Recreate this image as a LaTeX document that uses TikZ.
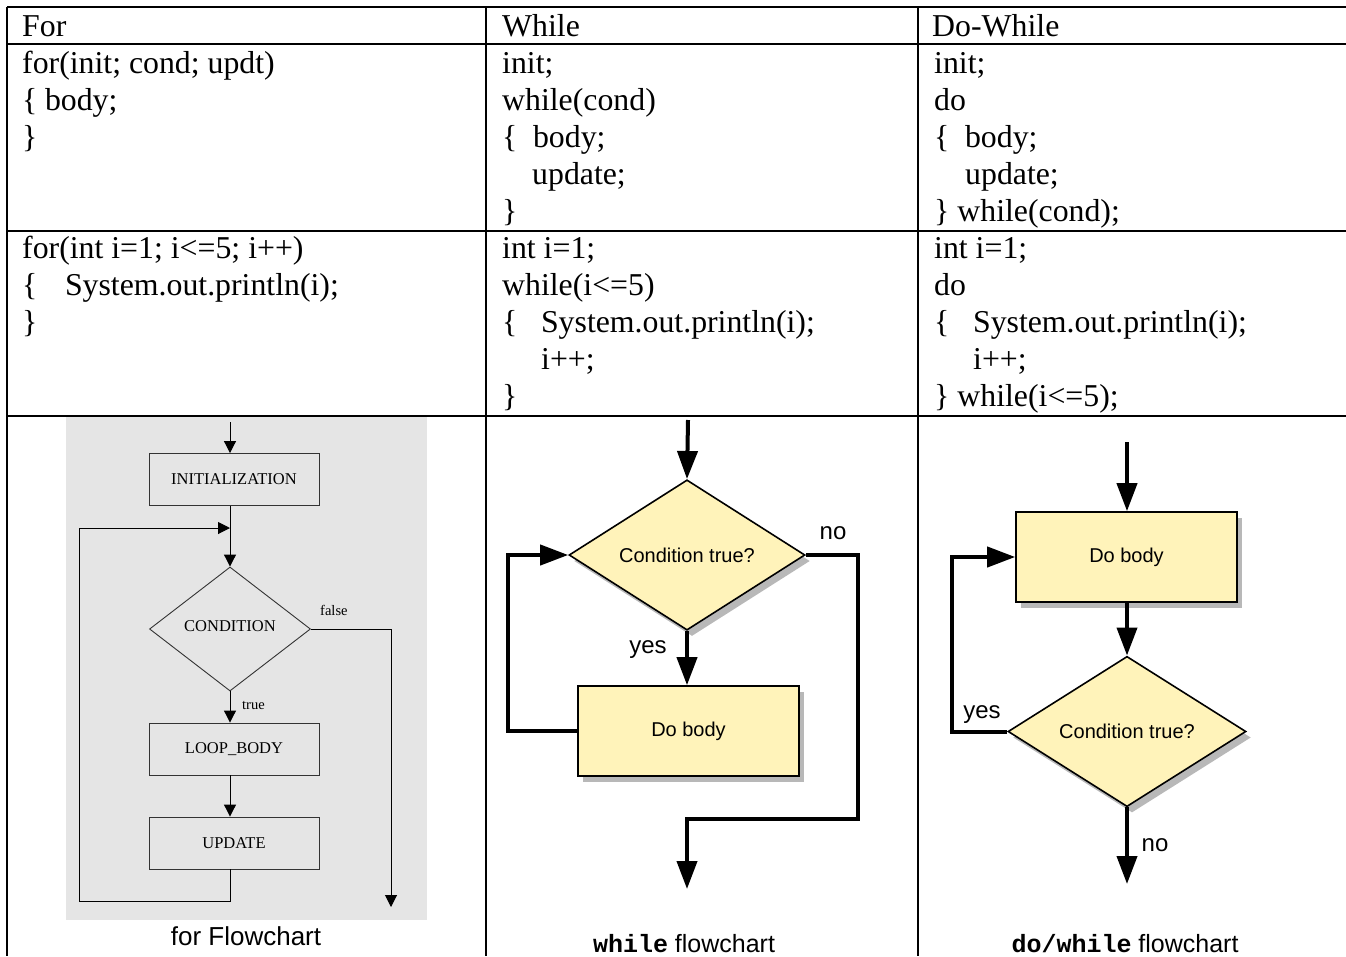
\documentclass[tikz,border=0pt]{standalone}
\usepackage{fontspec}
\setmainfont{Liberation Serif}
\newfontfamily\arialf{Liberation Sans}
\newfontfamily\courf{Liberation Mono}
\usetikzlibrary{arrows.meta,shapes.geometric,shadows}
\definecolor{flowbg}{RGB}{229,229,229}
\definecolor{ylw}{RGB}{255,243,186}
\begin{document}
\begin{tikzpicture}[x=1pt,y=-1pt,
  tbl/.style={line width=2.2pt},
  code/.style={anchor=base west,inner sep=0pt,font=\fontsize{31.8}{37}\selectfont},
  fbox/.style={draw=black!80,line width=0.9pt,rectangle,minimum width=170pt,minimum height=52pt,inner sep=0pt,font=\fontsize{16.5}{18}\selectfont},
  fdia/.style={draw=black!80,line width=0.9pt,diamond,minimum width=161pt,minimum height=124pt,inner sep=0pt,font=\fontsize{16.5}{18}\selectfont},
  flbl/.style={inner sep=0pt,font=\fontsize{14.5}{16}\selectfont},
  aone/.style={line width=1pt,-{Triangle[length=12pt,width=12pt]}},
  ybox/.style={draw=black,fill=ylw,line width=1.6pt,rectangle,minimum width=221pt,minimum height=90pt,inner sep=0pt,font=\arialf\fontsize{20}{22}\selectfont,
    drop shadow={shadow xshift=5pt,shadow yshift=-6pt,fill=black,opacity=0.28}},
  ydia/.style={draw=black,fill=ylw,line width=1.6pt,diamond,inner sep=0pt,font=\arialf\fontsize{20}{22}\selectfont,
    drop shadow={shadow xshift=5pt,shadow yshift=-6pt,fill=black,opacity=0.28}},
  atwo/.style={line width=4pt,-{Triangle[length=28pt,width=20pt]}},
  ylbl/.style={inner sep=0pt,font=\arialf\fontsize{24}{26}\selectfont},
  capt/.style={inner sep=0pt,font=\arialf\fontsize{25}{28}\selectfont}
]
\useasboundingbox (0,0) rectangle (1346,956);
\clip (0,0) rectangle (1346,956);
\fill[white] (0,0) rectangle (1346,956);

% ---- table grid
\draw[tbl] (7,7) -- (1346,7);
\draw[tbl] (7,44) -- (1346,44);
\draw[tbl] (7,231) -- (1346,231);
\draw[tbl] (7,416) -- (1346,416);
\draw[tbl] (7,7) -- (7,956);
\draw[tbl] (486,7) -- (486,956);
\draw[tbl] (918,7) -- (918,956);

% ---- headers
\node[code] (h1) at (22,36) {For};
\node[code] (h2) at (502,36) {While};
\node[code] (h3) at (932,36) {Do-While};

% ---- row 2
\node[code] (a1) at (22,73) {for(init; cond; updt)};
\node[code] (a2) at (22,110) {\{\hspace{7.6pt}body;};
\node[code] (a3) at (22,147) {\}};
\node[code] (b1) at (502,73) {init;};
\node[code] (b2) at (502,110) {while(cond)};
\node[code] (b3) at (502,147) {\{\hspace{15.6pt}body;};
\node[code] (b4) at (532,184) {update;};
\node[code] (b5) at (502,221) {\}};
\node[code] (c1) at (934,73) {init;};
\node[code] (c2) at (934,110) {do};
\node[code] (c3) at (934,147) {\{\hspace{15.6pt}body;};
\node[code] (c4) at (965,184) {update;};
\node[code] (c5) at (934,221) {\} while(cond);};

% ---- row 3
\node[code] (d1) at (22,258) {for(int i=1; i<=5; i++)};
\node[code] (d2) at (22,295) {\{\hspace{27.6pt}System.out.println(i);};
\node[code] (d3) at (22,332) {\}};
\node[code] (e1) at (502,258) {int i=1;};
\node[code] (e2) at (502,295) {while(i<=5)};
\node[code] (e3) at (502,332) {\{\hspace{23.6pt}System.out.println(i);};
\node[code] (e4) at (541,369) {i++;};
\node[code] (e5) at (502,406) {\}};
\node[code] (f1) at (934,258) {int i=1;};
\node[code] (f2) at (934,295) {do};
\node[code] (f3) at (934,332) {\{\hspace{23.6pt}System.out.println(i);};
\node[code] (f4) at (973,369) {i++;};
\node[code] (f5) at (934,406) {\} while(i<=5);};

% ---- for flowchart
\fill[flowbg] (66,417.2) rectangle (427,920);
\coordinate (fin) at (230,422);
\node[fbox] (init) at (234,479.5) {INITIALIZATION};
\node[fdia] (cond) at (230,629) {\raisebox{5pt}{CONDITION}\hspace{3pt}};
\node[fbox] (body) at (234,749) {LOOP\_BODY};
\node[fbox] (upd) at (234,843) {UPDATE};
\coordinate (join) at (230,528);
\coordinate (lb) at (79,901);
\coordinate (fend) at (391,907);
\draw[aone] (fin) -- (fin |- init.north);
\draw[aone] (init.south -| cond.north) -- (cond.north);
\draw[aone] (cond.south) -- (cond.south |- body.north);
\draw[aone] (body.south -| cond.north) -- (cond.north |- upd.north);
\draw[aone] (upd.south -| cond.north) |- (lb) |- (join);
\draw[aone] (cond.east) -| (fend);
\node[flbl,anchor=base west] (lfalse) at (320,615) {false};
\node[flbl,anchor=base west] (ltrue) at (242,709) {true};
\node[capt,font=\arialf\fontsize{26}{28}\selectfont] (cap1) at (246,936) {for Flowchart};

% ---- while flowchart
\coordinate (w0) at (688,420);
\node[ydia,minimum width=236pt,minimum height=145pt] (wc) at (687,555) {Condition true?};
\node[ybox] (wb) at (688.5,731) {Do body};
\coordinate (wl) at (508,555);
\coordinate (wn) at (858,819);
\coordinate (wend) at (687,889);
\draw[atwo] (w0) -- (wc.north);
\draw[atwo] (wc.south) -- (wb.north -| wc.south);
\draw[atwo] (wb.west) -| (wl) -- (wc.west);
\draw[atwo] (wc.east) -| (wn) -| (wend);
\node[ylbl] (wyes) at (648,650) {yes};
\node[ylbl] (wno) at (833,533) {no};
\node[capt,anchor=base] (cap2) at (684,952) {{\courf\bfseries while} flowchart};

% ---- do/while flowchart
\coordinate (d0) at (1127,442);
\node[ybox] (db) at (1126.5,557) {Do body};
\node[ydia,minimum width=238pt,minimum height=147pt] (dc) at (1127,731.5) {Condition true?};
\coordinate (dl) at (952,731.5);
\coordinate (dend) at (1127,884);
\draw[atwo] (d0) -- (db.north -| d0);
\draw[atwo] (db.south -| dc.north) -- (dc.north);
\draw[atwo] (dc.west) -- (dl) |- (db.west);
\draw[atwo] (dc.south) -- (dend);
\node[ylbl] (dyes) at (982,715) {yes};
\node[ylbl] (dno) at (1155,845) {no};
\node[capt,anchor=base] (cap3) at (1125,952) {{\courf\bfseries do/while} flowchart};
\end{tikzpicture}
\end{document}
